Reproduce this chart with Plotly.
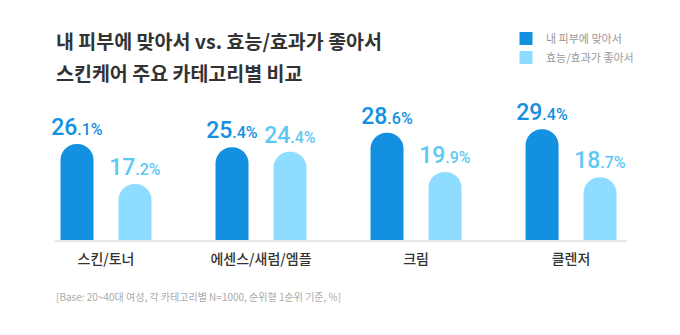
import plotly.graph_objects as go

# Skincare category comparison: "fits my skin" vs "good efficacy"
categories = ["스킨/토너", "에센스/새럼/엠플", "크림", "클렌저"]
series_names = ["내 피부에 맞아서", "효능/효과가 좋아서"]
fits_skin = [26.1, 25.4, 28.6, 29.4]
efficacy = [17.2, 24.4, 19.9, 18.7]

title_lines = ["내 피부에 맞아서 vs. 효능/효과가 좋아서", "스킨케어 주요 카테고리별 비교"]
footnote = "[Base: 20~40대 여성, 각 카테고리별 N=1000, 순위형 1순위 기준, %]"

DARK = "#1490E0"
LIGHT = "#8EDCFF"
DARK_TXT = "#1490E0"
LIGHT_TXT = "#5EC8F5"
KR_FONT = "Noto Sans CJK KR"
NUM_FONT = "Roboto"


def value_label(v):
    whole, dec = f"{v:.1f}".split(".")
    return f"{whole}<span style='font-size:16px'>.{dec}%</span>"


xs = list(range(len(categories)))

fig = go.Figure()
for name, vals, color, tcolor in [
    (series_names[0], fits_skin, DARK, DARK_TXT),
    (series_names[1], efficacy, LIGHT, LIGHT_TXT),
]:
    fig.add_trace(go.Bar(
        x=xs, y=vals, name=name, showlegend=False,
        marker=dict(color=color, line=dict(width=0)),
        text=[value_label(v) for v in vals],
        textposition="outside",
        constraintext="none",
        textfont=dict(family=NUM_FONT, size=23, color=tcolor, weight=500),
        cliponaxis=False,
        hoverinfo="skip",
    ))

# square legend keys (the bars themselves have rounded caps)
for name, color in [(series_names[0], DARK), (series_names[1], LIGHT)]:
    fig.add_trace(go.Scatter(
        x=[None], y=[None], mode="markers", name=name,
        marker=dict(symbol="square", size=13, color=color),
        hoverinfo="skip",
    ))

annotations = [
    dict(text=title_lines[0], x=0, xshift=-1, y=(240 - 41) / 140,
         xref="paper", yref="paper", xanchor="left", yanchor="middle",
         showarrow=False,
         font=dict(family=KR_FONT, size=19.5, color="#333333", weight="bold")),
    dict(text=title_lines[1], x=0, xshift=-1, y=(240 - 72) / 140,
         xref="paper", yref="paper", xanchor="left", yanchor="middle",
         showarrow=False,
         font=dict(family=KR_FONT, size=19.5, color="#333333", weight="bold")),
    dict(text=footnote, x=0, xshift=-1, y=(240 - 296) / 140,
         xref="paper", yref="paper", xanchor="left", yanchor="middle",
         showarrow=False,
         font=dict(family=KR_FONT, size=10, color="#AAAAAA")),
]

fig.update_layout(
    width=680, height=335,
    margin=dict(l=55, r=53, t=100, b=95),
    paper_bgcolor="white", plot_bgcolor="white",
    barmode="group", bargap=0.252, bargroupgap=0.431,
    barcornerradius="50%",
    showlegend=True,
    legend=dict(
        x=(506 - 55) / 572, y=(240 - 24) / 140,
        xanchor="left", yanchor="top",
        font=dict(family=KR_FONT, size=11, color="#999999"),
        bgcolor="rgba(0,0,0,0)", itemclick=False, tracegroupgap=0,
        traceorder="normal",
    ),
    annotations=annotations,
    xaxis=dict(
        range=[-0.329, 3.361], tickvals=xs, ticktext=categories,
        showline=True, linecolor="#E8E8E8", linewidth=2,
        showgrid=False, zeroline=False, ticks="",
        tickfont=dict(family=KR_FONT, size=14, color="#333333", weight=500),
        ticklabelstandoff=5, fixedrange=True,
    ),
    yaxis=dict(
        range=[4.74, 4.74 + 140 / 4.49], visible=False,
        showgrid=False, zeroline=False, fixedrange=True,
    ),
)

fig.write_html("out.html")
